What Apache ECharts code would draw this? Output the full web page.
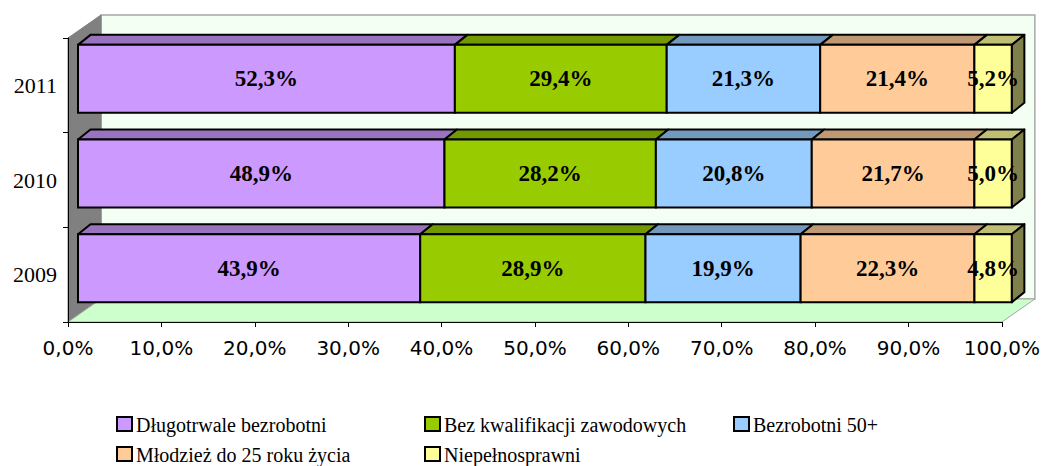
<!DOCTYPE html>
<html><head><meta charset="utf-8">
<script src="https://cdn.jsdelivr.net/npm/echarts@6/dist/echarts.min.js"></script>
<style>html,body{margin:0;padding:0;background:#fff}#c{width:1043px;height:466px}</style>
</head><body><div id="c"></div>
<script>
// ---- data ----
const years = ['2009', '2010', '2011'];
const seriesNames = ['Długotrwale bezrobotni', 'Bez kwalifikacji zawodowych', 'Bezrobotni 50+', 'Młodzież do 25 roku życia', 'Niepełnosprawni'];
const dlugotrwale = [43.9, 48.9, 52.3];
const bezKwalifikacji = [28.9, 28.2, 29.4];
const bezrobotni50 = [19.9, 20.8, 21.3];
const mlodziez = [22.3, 21.7, 21.4];
const niepelnosprawni = [4.8, 5.0, 5.2];
const xTickValues = [0, 10, 20, 30, 40, 50, 60, 70, 80, 90, 100];

// ---- style ----
const frontColors = ['#CC99FF', '#99CC00', '#99CCFF', '#FFCC99', '#FFFF99'];
const topColors = ['#9973BF', '#739900', '#7399BF', '#BF9973', '#BFBF73'];
const sideColor = '#80804D';
const SERIF = 'Liberation Serif, Times New Roman, serif';
const SANS = 'DejaVu Sans, sans-serif';

const valueSets = [dlugotrwale, bezKwalifikacji, bezrobotni50, mlodziez, niepelnosprawni];
const totals = years.map((y, i) => valueSets.reduce((s, arr) => s + arr[i], 0));

function fmt(v) { return v.toFixed(1).replace('.', ',') + '%'; }

function buildData(sIdx) {
  return years.map((y, i) => {
    let start = 0;
    for (let k = 0; k < sIdx; k++) start += valueSets[k][i];
    const end = start + valueSets[sIdx][i];
    return [start / totals[i] * 100, end / totals[i] * 100, i, valueSets[sIdx][i]];
  });
}

const FX = 10, FY = -6.5, DX = 12.5, DY = -10, WX = 33, WY = -23;

function barRenderer(sIdx) {
  return function (params, api) {
    const x0v = api.value(0), x1v = api.value(1), cat = api.value(2), raw = api.value(3);
    const p0 = api.coord([x0v, cat]), p1 = api.coord([x1v, cat]);
    const band = api.size([0, 1])[1];
    const h = band * 0.718;
    const xa = p0[0] + FX, xb = p1[0] + FX;
    const yc = p0[1] + FY;
    const yt = yc - h / 2, yb = yc + h / 2;
    const children = [
      { type: 'polygon', shape: { points: [[xa, yt], [xa + DX, yt + DY], [xb + DX, yt + DY], [xb, yt]] },
        style: { fill: topColors[sIdx], stroke: '#000', lineWidth: 2, lineJoin: 'round' } },
      { type: 'rect', shape: { x: xa, y: yt, width: xb - xa, height: h },
        style: { fill: frontColors[sIdx], stroke: '#000', lineWidth: 2 } }
    ];
    if (sIdx === valueSets.length - 1) {
      children.push({ type: 'polygon', shape: { points: [[xb, yt], [xb + DX, yt + DY], [xb + DX, yb + DY], [xb, yb]] },
        style: { fill: sideColor, stroke: '#000', lineWidth: 2, lineJoin: 'round' } });
    }
    children.push({ type: 'text', x: (xa + xb) / 2, y: yc,
      style: { text: fmt(raw), align: 'center', verticalAlign: 'middle',
        fontSize: 23, fontWeight: 'bold', fontFamily: SERIF, fill: '#000' } });
    return { type: 'group', children };
  };
}

function wallRenderer(params, api) {
  const cs = params.coordSys;
  const L = cs.x, T = cs.y, R = cs.x + cs.width, B = cs.y + cs.height;
  return { type: 'group', children: [
    { type: 'rect', shape: { x: L + WX, y: T + WY, width: cs.width, height: cs.height },
      style: { fill: '#F4FFF4', stroke: '#A6A6A6', lineWidth: 1.5 } },
    { type: 'polygon', shape: { points: [[L, T], [L + WX, T + WY], [L + WX, B + WY], [L, B]] },
      style: { fill: '#808080', stroke: '#808080', lineWidth: 1 } },
    { type: 'polygon', shape: { points: [[L, B], [L + WX, B + WY], [R + WX, B + WY], [R, B]] },
      style: { fill: '#CCFFCC', stroke: '#A6A6A6', lineWidth: 1 } }
  ] };
}

const series = [{
  type: 'custom', name: 'walls', z: 1, silent: true,
  data: [[0, 0]], encode: { x: 0, y: 1 }, renderItem: wallRenderer
}];
seriesNames.forEach((n, s) => {
  series.push({ type: 'custom', name: n, z: 3, data: buildData(s), encode: { x: [0, 1], y: 2 }, renderItem: barRenderer(s) });
});

// legend: two rows laid out in columns
const legendPos = [[117, 417], [425, 417], [734, 417], [117, 447], [425, 447]];
const graphic = [];
seriesNames.forEach((n, i) => {
  const [lx, ly] = legendPos[i];
  graphic.push({ type: 'rect', x: lx, y: ly, shape: { x: 0, y: 0, width: 15, height: 14 },
    style: { fill: frontColors[i], stroke: '#000', lineWidth: 2 } });
  graphic.push({ type: 'text', x: lx + 19, y: ly + 8,
    style: { text: n, fill: '#000', fontSize: 20, fontFamily: SERIF, verticalAlign: 'middle' } });
});

const chart = echarts.init(document.getElementById('c'), null, { renderer: 'svg' });
chart.setOption({
  animation: false,
  backgroundColor: '#fff',
  grid: { left: 68, right: 41, top: 38, bottom: 144, containLabel: false },
  xAxis: {
    type: 'value', min: 0, max: 100, interval: 10, z: 10,
    axisLine: { show: true, lineStyle: { color: '#000', width: 1 } },
    axisTick: { show: true, length: 5, lineStyle: { color: '#000' } },
    splitLine: { show: false },
    axisLabel: { margin: 16, color: '#000', fontSize: 20, fontFamily: SANS,
      formatter: v => xTickValues.includes(v) ? fmt(v) : '' }
  },
  yAxis: {
    type: 'category', data: years, z: 10,
    axisLine: { show: true, lineStyle: { color: '#000', width: 1 } },
    axisTick: { show: true, length: 5, lineStyle: { color: '#000' } },
    axisLabel: { margin: 11, color: '#000', fontSize: 22, fontFamily: SERIF }
  },
  graphic: graphic,
  series: series
});
</script>
</body></html>
